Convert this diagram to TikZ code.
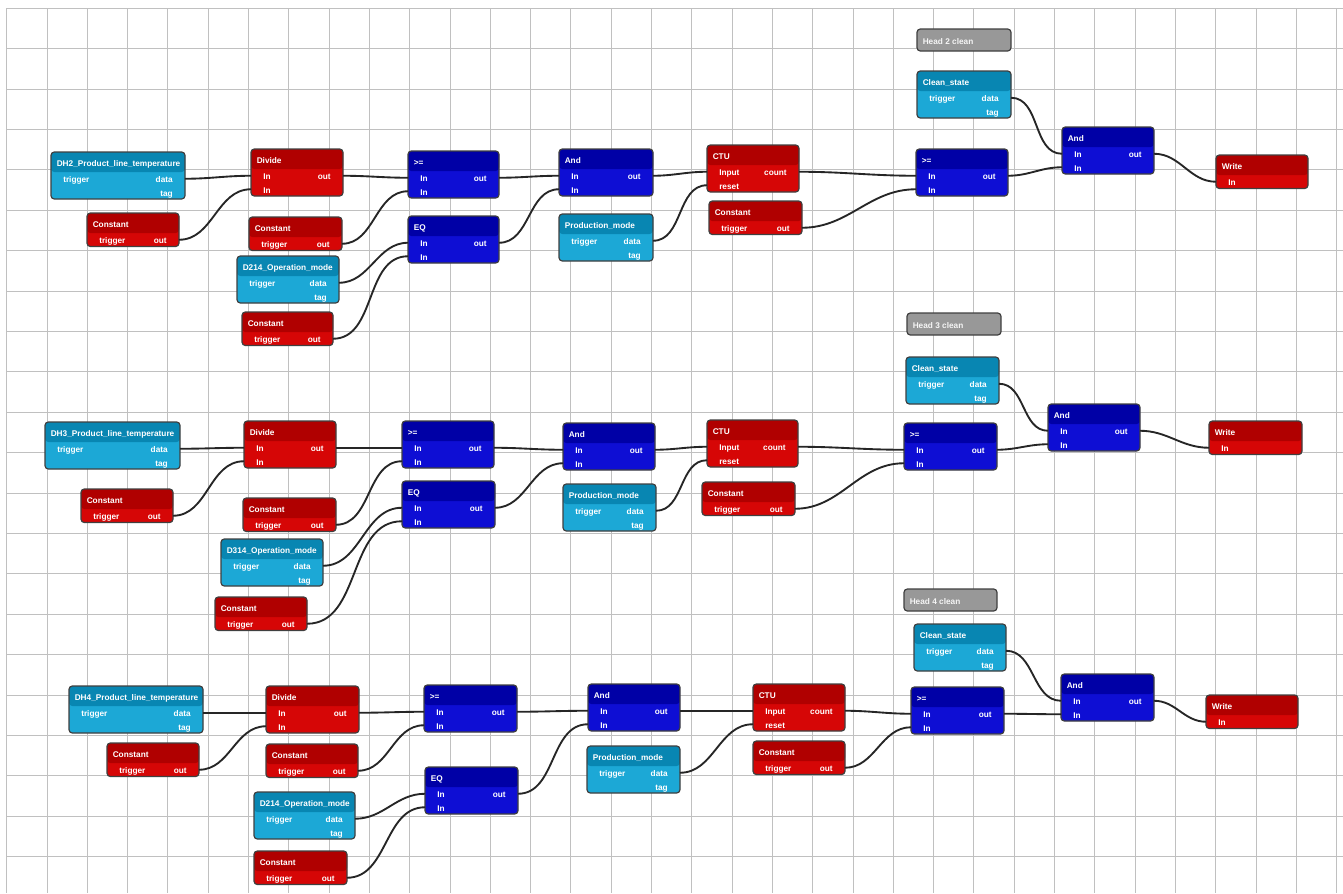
\documentclass[tikz,border=0pt]{standalone}
\usepackage{fontspec}
\setmainfont{Liberation Sans}
\usetikzlibrary{calc}
\definecolor{redtop}{RGB}{176,0,0}
\definecolor{redbody}{RGB}{214,6,6}
\definecolor{bluetop}{RGB}{0,0,166}
\definecolor{bluebody}{RGB}{14,14,212}
\definecolor{cyantop}{RGB}{8,134,178}
\definecolor{cyanbody}{RGB}{28,168,214}
\definecolor{headgray}{RGB}{152,152,152}
\definecolor{gridgray}{RGB}{192,192,192}

\begin{document}
\begin{tikzpicture}[x=0.75pt, y=-0.75pt,
  blkbox/.style={draw=black!75, line width=0.9pt, rounded corners=2.5pt, inner sep=0pt, outer sep=0pt, anchor=north west},
  blktitle/.style={text=white, font=\fontsize{6.2}{7}\selectfont\bfseries, inner sep=0pt, text height=1.5ex, text depth=0.3ex},
  ptxt/.style={text=white, font=\fontsize{6.2}{7}\selectfont\bfseries, inner sep=0pt, text height=1.5ex, text depth=0.3ex},
  headbox/.style={blkbox, fill=headgray, minimum height=22*0.75pt},
  wire/.style={draw=black!85, line width=1.4pt, out=0, in=180},
  gridline/.style={draw=gridgray, line width=0.7pt}]

\useasboundingbox (0,0) rectangle (1343,893);
\fill[white] (0,0) rectangle (1343,893);

% Background grid
\foreach \i in {0,...,33} {
  \draw[gridline] (6.7+40.3*\i,8.3) -- (6.7+40.3*\i,893);
}
\foreach \j in {0,...,21} {
  \draw[gridline] (6.7,8.3+40.4*\j) -- (1343,8.3+40.4*\j);
}

% Block: name, x, y, width, rows, colour, title
\def\blk#1#2#3#4#5#6#7{%
  \node[blkbox, fill=#6body, minimum width=#4*0.75pt, minimum height={(20+13.5*#5)*0.75pt},
    path picture={\fill[#6top] (path picture bounding box.north west) rectangle ([yshift=-15pt]path picture bounding box.north east);}] (#1) at (#2,#3) {};
  \node[blktitle, anchor=west] (#1-t) at ($(#1.north west)+(5.5,10)$) {#7};
}
% Ports: block, row, label, port name
\def\pL#1#2#3#4{%
  \coordinate (#1-#4) at ($(#1.north west)+(0,13.25+13.5*#2)$);
  \node[ptxt, anchor=west] (#1-#4-l) at ($(#1-#4)+(12,0)$) {#3};
}
\def\pR#1#2#3#4{%
  \coordinate (#1-#4) at ($(#1.north east)+(0,13.25+13.5*#2)$);
  \node[ptxt, anchor=east] (#1-#4-l) at ($(#1-#4)+(-12,0)$) {#3};
}
% Kinds of blocks
\def\src#1#2#3#4#5{\blk{#1}{#2}{#3}{#4}{2}{cyan}{#5}\pL{#1}{1}{trigger}{trig}\pR{#1}{1}{data}{data}\pR{#1}{2}{tag}{tag}}
\def\cst#1#2#3#4{\blk{#1}{#2}{#3}{#4}{1}{red}{Constant}\pL{#1}{1}{trigger}{trig}\pR{#1}{1}{out}{out}}
\def\gate#1#2#3#4#5#6{\blk{#1}{#2}{#3}{#4}{2}{#5}{#6}\pL{#1}{1}{In}{in1}\pL{#1}{2}{In}{in2}\pR{#1}{1}{out}{out}}
\def\ctu#1#2#3#4{\blk{#1}{#2}{#3}{#4}{2}{red}{CTU}\pL{#1}{1}{Input}{in}\pL{#1}{2}{reset}{reset}\pR{#1}{1}{count}{count}}
\def\wrt#1#2#3#4{\blk{#1}{#2}{#3}{#4}{1}{red}{Write}\pL{#1}{1}{In}{in}}
\def\hd#1#2#3#4#5{%
  \node[headbox, minimum width=#4*0.75pt] (#1) at (#2,#3) {};
  \node[blktitle, text=white!92!gray, anchor=west] (#1-t) at ($(#1.west)+(5.5,0)$) {#5};
}

% Head 2
\src{dh2}{51}{152}{134}{DH2\_Product\_line\_temperature}
\cst{ca2}{87}{213}{92}
\gate{div2}{251}{149}{92}{red}{Divide}
\cst{cb2}{249}{217}{93}
\src{op2}{237}{256}{102}{D214\_Operation\_mode}
\cst{cc2}{242}{312}{91}
\gate{ge2}{408}{151}{91}{blue}{>=}
\gate{eq2}{408}{216}{91}{blue}{EQ}
\gate{and2}{559}{149}{94}{blue}{And}
\src{pm2}{559}{214}{94}{Production\_mode}
\ctu{ctu2}{707}{145}{92}
\cst{cd2}{709}{201}{93}
\hd{hd2}{917}{29}{94}{Head 2 clean}
\src{cs2}{917}{71}{94}{Clean\_state}
\gate{gf2}{916}{149}{92}{blue}{>=}
\gate{af2}{1062}{127}{92}{blue}{And}
\wrt{wr2}{1216}{155}{92}

% Head 3
\src{dh3}{45}{422}{135}{DH3\_Product\_line\_temperature}
\cst{ca3}{81}{489}{92}
\gate{div3}{244}{421}{92}{red}{Divide}
\cst{cb3}{243}{498}{93}
\src{op3}{221}{539}{102}{D314\_Operation\_mode}
\cst{cc3}{215}{597}{92}
\gate{ge3}{402}{421}{92}{blue}{>=}
\gate{eq3}{402}{481}{93}{blue}{EQ}
\gate{and3}{563}{423}{92}{blue}{And}
\src{pm3}{563}{484}{93}{Production\_mode}
\ctu{ctu3}{707}{420}{91}
\cst{cd3}{702}{482}{93}
\hd{hd3}{907}{313}{94}{Head 3 clean}
\src{cs3}{906}{357}{93}{Clean\_state}
\gate{gf3}{904}{423}{93}{blue}{>=}
\gate{af3}{1048}{404}{92}{blue}{And}
\wrt{wr3}{1209}{421}{93}

% Head 4
\src{dh4}{69}{686}{134}{DH4\_Product\_line\_temperature}
\cst{ca4}{107}{743}{92}
\gate{div4}{266}{686}{93}{red}{Divide}
\cst{cb4}{266}{744}{92}
\src{op4}{254}{792}{101}{D214\_Operation\_mode}
\cst{cc4}{254}{851}{93}
\gate{ge4}{424}{685}{93}{blue}{>=}
\gate{eq4}{425}{767}{93}{blue}{EQ}
\gate{and4}{588}{684}{92}{blue}{And}
\src{pm4}{587}{746}{93}{Production\_mode}
\ctu{ctu4}{753}{684}{92}
\cst{cd4}{753}{741}{92}
\hd{hd4}{904}{589}{93}{Head 4 clean}
\src{cs4}{914}{624}{92}{Clean\_state}
\gate{gf4}{911}{687}{93}{blue}{>=}
\gate{af4}{1061}{674}{93}{blue}{And}
\wrt{wr4}{1206}{695}{92}

% Wires
\foreach \h in {2,3,4} {
  \draw[wire] (dh\h-data) to (div\h-in1);
  \draw[wire] (ca\h-out) to (div\h-in2);
  \draw[wire] (div\h-out) to (ge\h-in1);
  \draw[wire] (cb\h-out) to (ge\h-in2);
  \draw[wire] (op\h-data) to (eq\h-in1);
  \draw[wire] (cc\h-out) to (eq\h-in2);
  \draw[wire] (ge\h-out) to (and\h-in1);
  \draw[wire] (eq\h-out) to (and\h-in2);
  \draw[wire] (and\h-out) to (ctu\h-in);
  \draw[wire] (pm\h-data) to (ctu\h-reset);
  \draw[wire] (ctu\h-count) to (gf\h-in1);
  \draw[wire] (cd\h-out) to (gf\h-in2);
  \draw[wire] (cs\h-data) to (af\h-in1);
  \draw[wire] (gf\h-out) to (af\h-in2);
  \draw[wire] (af\h-out) to (wr\h-in);
}

\end{tikzpicture}
\end{document}
